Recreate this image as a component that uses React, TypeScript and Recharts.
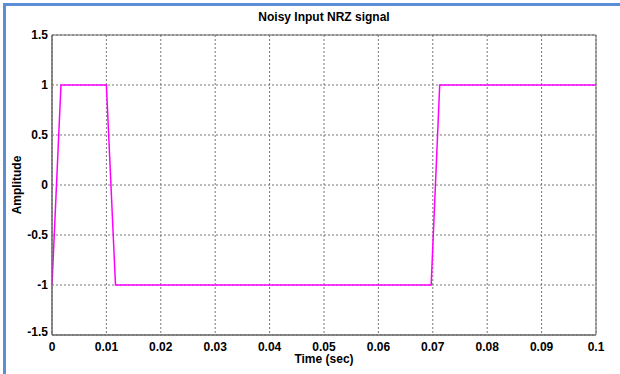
import React from "react";
import { LineChart, Line, XAxis, YAxis, CartesianGrid, ReferenceArea } from "recharts";

const times = [0, 0.00165, 0.01, 0.01167, 0.0697, 0.07127, 0.1];
const amplitude = [-1, 1, 1, -1, -1, 1, 1];
const xTicks = [0, 0.01, 0.02, 0.03, 0.04, 0.05, 0.06, 0.07, 0.08, 0.09, 0.1];
const yTicks = [-1.5, -1, -0.5, 0, 0.5, 1, 1.5];

const data = times.map((t, i) => ({ t, v: amplitude[i] }));

const font = "'Liberation Sans', Arial, sans-serif";
const tickStyle = { fontSize: 12, fontWeight: 700, fill: "#000", fontFamily: font };

const YTick = (props: any) => {
  const { x, y, payload } = props;
  const shift = payload.value === -1.5 ? -3 : 0;
  return (
    <text x={x} y={y + shift} dy="0.35em" textAnchor="end" style={tickStyle}>
      {String(payload.value)}
    </text>
  );
};

export default function App() {
  return (
    <div style={{ position: "absolute", left: 0, top: 0, width: 620, height: 374, background: "#fff", overflow: "hidden" }}>
      <div style={{ position: "absolute", left: 3, top: 3, right: -10, bottom: -10, borderTop: "3px solid #5B8ED6", borderLeft: "3px solid #5B8ED6" }} />
      <div style={{ position: "absolute", left: 52, width: 544, top: 9, textAlign: "center", fontFamily: font, fontWeight: 700, fontSize: 12, color: "#000", lineHeight: "16px" }}>
        Noisy Input NRZ signal
      </div>
      <div style={{ position: "absolute", left: 17, top: 185, transform: "translate(-50%, -50%) rotate(-90deg)", fontFamily: font, fontWeight: 700, fontSize: 12, color: "#000", whiteSpace: "nowrap", lineHeight: "14px" }}>
        Amplitude
      </div>
      <div style={{ position: "absolute", left: 52, width: 544, top: 352, textAlign: "center", fontFamily: font, fontWeight: 700, fontSize: 12, color: "#000", lineHeight: "14px" }}>
        Time (sec)
      </div>
      <div style={{ position: "absolute", left: 0, top: 0 }}>
        <LineChart width={620} height={374} data={data} margin={{ top: 35, right: 24, bottom: 0, left: 0 }}>
          <CartesianGrid stroke="#777" strokeDasharray="2 2" />
          <XAxis
            dataKey="t"
            type="number"
            domain={[0, 0.1]}
            ticks={xTicks}
            height={39}
            tickLine={false}
            tickSize={4}
            tickMargin={3}
            stroke="#666"
            tick={tickStyle}
            interval={0}
            allowDataOverflow
          />
          <YAxis
            type="number"
            domain={[-1.5, 1.5]}
            ticks={yTicks}
            width={52}
            tickLine={false}
            tickSize={4}
            tickMargin={0}
            stroke="#666"
            tick={<YTick />}
            interval={0}
          />
          <ReferenceArea x1={0} x2={0.1} y1={-1.5} y2={1.5} fill="none" fillOpacity={0} stroke="#666" strokeWidth={1} ifOverflow="visible" />
          <Line dataKey="v" stroke="#FF00FF" strokeWidth={1.5} dot={false} isAnimationActive={false} type="linear" />
        </LineChart>
      </div>
    </div>
  );
}
